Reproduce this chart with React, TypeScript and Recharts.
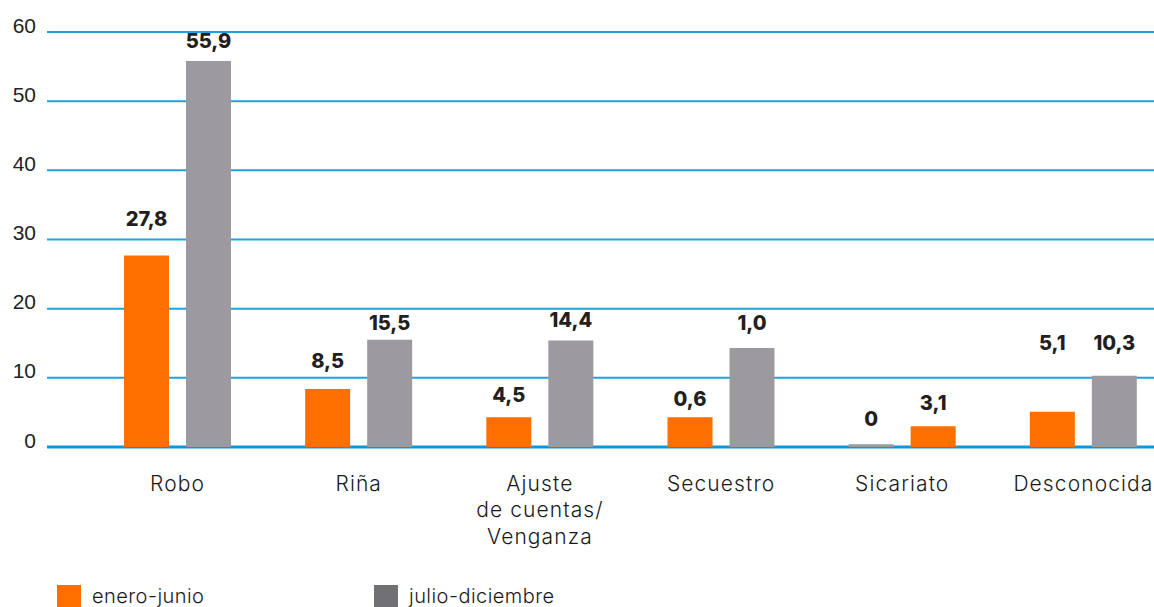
import React from 'react';
import { BarChart, Bar, XAxis, YAxis, CartesianGrid, Cell, LabelList } from 'recharts';

// Categories (line breaks as in the original labels)
const categories = ['Robo', 'Riña', 'Ajuste\nde cuentas/\nVenganza', 'Secuestro', 'Sicariato', 'Desconocida'];

// Bar heights as drawn
const eneroJunio = [27.7, 8.4, 4.3, 4.3, 0.4, 5.1];
const julioDiciembre = [55.8, 15.5, 15.4, 14.3, 3.0, 10.3];

// Printed value labels
const eneroLabels = ['27,8', '8,5', '4,5', '0,6', '0', '5,1'];
const julioLabels = ['55,9', '15,5', '14,4', '1,0', '3,1', '10,3'];

const yTicks = [0, 10, 20, 30, 40, 50, 60];

const ORANGE = '#ff6f00';
const GREY = '#9c9a9f';
const LEGEND_GREY = '#717075';
const BLUE = '#1fa3dc';
const FONT = 'Inter, "Open Sans", sans-serif';

// label distance above bar top (px), the original places them by hand
const eneroLift = [36, 28, 22, 18, 25, 69];
const julioLift = [20, 17, 20, 25, 23, 33];

// Sicariato has the colours swapped in the original
const eneroColor = (i: number) => (i === 4 ? GREY : ORANGE);
const julioColor = (i: number) => (i === 4 ? ORANGE : GREY);

const data = categories.map((name, i) => ({
  name,
  enero: eneroJunio[i],
  julio: julioDiciembre[i],
}));

function CategoryTick(props: any) {
  const { x, y, payload } = props;
  const lines = String(payload.value).split('\n');
  return (
    <text x={x} y={y} textAnchor="middle" fill="#1a1a1a" fontFamily={FONT} fontSize={21} fontWeight={300} letterSpacing={1.1}>
      {lines.map((line, i) => (
        <tspan key={i} x={x} y={y + 36 + i * 26.5} dominantBaseline="central">
          {line}
        </tspan>
      ))}
    </text>
  );
}

function ValueTick(props: any) {
  const { y, payload } = props;
  return (
    <text x={36} y={y - 7} textAnchor="end" dominantBaseline="central" fill="#222" fontFamily='"Liberation Sans", Arial, sans-serif' fontSize={21}>
      {payload.value}
    </text>
  );
}

function makeLabel(labels: string[], lifts: number[]) {
  return (props: any) => {
    const { x, y, width, height, index } = props;
    const top = Math.min(y, y + height);
    return (
      <text
        x={x + width / 2}
        y={top - lifts[index]}
        textAnchor="middle"
        dominantBaseline="central"
        fill="#231f20"
        fontFamily={FONT}
        fontSize={20}
        fontWeight={800}
      >
        {labels[index]}
      </text>
    );
  };
}

function GridLine(props: any) {
  const { x1, x2, y1, y2 } = props;
  const zero = y1 > 440;
  return <line x1={x1} x2={x2} y1={y1} y2={y2} stroke={zero ? '#0d95d6' : BLUE} strokeWidth={zero ? 3 : 2} />;
}

function LegendItem({ color, text, left }: { color: string; text: string; left: number }) {
  return (
    <div style={{ position: 'absolute', left, top: 585, display: 'flex', alignItems: 'center' }}>
      <div style={{ width: 24, height: 22, background: color }} />
      <span style={{ marginLeft: 11, fontFamily: FONT, fontSize: 20, fontWeight: 300, letterSpacing: 0.45, color: '#1a1a1a', lineHeight: '22px' }}>
        {text}
      </span>
    </div>
  );
}

export default function App() {
  return (
    <div style={{ position: 'fixed', left: 0, top: 0, width: 1154, height: 607, overflow: 'hidden', background: '#fff' }}>
      <BarChart
        width={1174}
        height={607}
        data={data}
        margin={{ top: 32, right: 0, bottom: 100, left: 47 }}
        barSize={45}
        barGap={17}
      >
        <CartesianGrid vertical={false} horizontal={GridLine} x={47} width={1107} />
        <XAxis dataKey="name" axisLine={false} tickLine={false} tickSize={0} tickMargin={0} height={60} interval={0} tick={CategoryTick} />
        <YAxis width={40} domain={[0, 60]} ticks={yTicks} axisLine={false} tickLine={false} tick={ValueTick} />
        <Bar dataKey="enero" isAnimationActive={false}>
          {data.map((_, i) => (
            <Cell key={`e-${i}`} fill={eneroColor(i)} />
          ))}
          <LabelList dataKey="enero" content={makeLabel(eneroLabels, eneroLift)} />
        </Bar>
        <Bar dataKey="julio" isAnimationActive={false}>
          {data.map((_, i) => (
            <Cell key={`j-${i}`} fill={julioColor(i)} />
          ))}
          <LabelList dataKey="julio" content={makeLabel(julioLabels, julioLift)} />
        </Bar>
      </BarChart>
      <LegendItem color={ORANGE} text="enero-junio" left={57} />
      <LegendItem color={LEGEND_GREY} text="julio-diciembre" left={374} />
    </div>
  );
}
